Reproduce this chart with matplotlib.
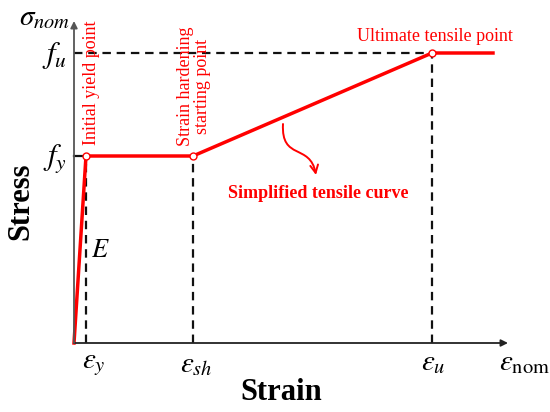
import matplotlib
matplotlib.use('Agg')
import matplotlib.pyplot as plt
from matplotlib.patches import FancyArrowPatch
from matplotlib.path import Path

plt.rcParams['font.family'] = 'Liberation Serif'
plt.rcParams['mathtext.fontset'] = 'stix'

# Simplified tensile curve (schematic units)
strain = [0, 12, 119, 358, 419]
stress = [0, 187, 187, 290, 290]
eps_y, eps_sh, eps_u = strain[1], strain[2], strain[3]
f_y, f_u = stress[1], stress[3]
key_pts = [1, 2, 3]

red = '#ff0000'

fig = plt.figure(figsize=(5.5, 4.12), dpi=100)
ax = fig.add_axes([0, 0, 1, 1])
ax.set_xlim(-74, 476)
ax.set_ylim(-69, 343)
ax.set_axis_off()

# axes with arrows
ax.annotate('', xy=(434, 0), xytext=(0, 0),
            arrowprops=dict(arrowstyle='-|>', color='#222222', lw=1.3,
                            mutation_scale=10, shrinkA=0, shrinkB=0))
ax.annotate('', xy=(0, 322), xytext=(0, 0),
            arrowprops=dict(arrowstyle='-|>', color='#555555', lw=1.3,
                            mutation_scale=10, shrinkA=0, shrinkB=0))

# dashed guide lines
dash = dict(color='#111111', lw=1.6, linestyle=(0, (3.8, 2.6)))
ax.plot([0, eps_u], [f_u, f_u], **dash)
ax.plot([0, eps_y], [f_y, f_y], color='#111111', lw=1.6)
ax.plot([eps_y, eps_y], [0, f_y], **dash)
ax.plot([eps_sh, eps_sh], [0, f_y], **dash)
ax.plot([eps_u, eps_u], [0, f_u], **dash)

# curve
ax.plot(strain, stress, color=red, lw=2.5, solid_joinstyle='miter')
ax.plot([strain[i] for i in key_pts], [stress[i] for i in key_pts], 'o',
        ms=5, mfc='white', mec=red, mew=1.0)

# axis symbols
ax.text(-29, 325, r'$\sigma_{nom}$', fontsize=21, ha='center', va='center')
ax.text(-19, 288, r'$f_u$', fontsize=22, ha='center', va='center')
ax.text(-19, 185, r'$f_y$', fontsize=22, ha='center', va='center')
ax.text(eps_y + 8, -22, r'$\varepsilon_y$', fontsize=21, ha='center', va='center')
ax.text(eps_sh + 3, -22, r'$\varepsilon_{sh}$', fontsize=21, ha='center', va='center')
ax.text(eps_u + 1, -20, r'$\varepsilon_u$', fontsize=21, ha='center', va='center')
ax.text(451, -20, r'$\varepsilon_{\mathrm{nom}}$', fontsize=21, ha='center', va='center')
ax.text(26, 92, r'$E$', fontsize=19, ha='center', va='center')

ax.text(207, -49, 'Strain', fontsize=22, fontweight='bold', ha='center', va='center')
ax.text(-53, 142, 'Stress', fontsize=22, fontweight='bold', ha='center', va='center',
        rotation=90)

# red annotations
ax.text(eps_y + 6, 260, 'Initial yield point', color=red, fontsize=13,
        rotation=90, ha='center', va='center')
ax.text(eps_sh + 1, 257, 'Strain hardening\nstarting point', color=red, fontsize=13,
        rotation=90, ha='center', va='center', linespacing=1.0, multialignment='center')
ax.text(eps_u + 3, 307, 'Ultimate tensile point', color=red, fontsize=13,
        ha='center', va='center')
ax.text(244, 150, 'Simplified tensile curve', color=red, fontsize=13,
        fontweight='bold', ha='center', va='center')

curve = Path([(209, 219), (207, 182), (236, 200), (242, 168)],
             [Path.MOVETO, Path.CURVE4, Path.CURVE4, Path.CURVE4])
ax.add_patch(FancyArrowPatch(path=curve, arrowstyle='->', color=red, lw=1.4,
                             mutation_scale=14))

fig.savefig('out.png', dpi=100)
